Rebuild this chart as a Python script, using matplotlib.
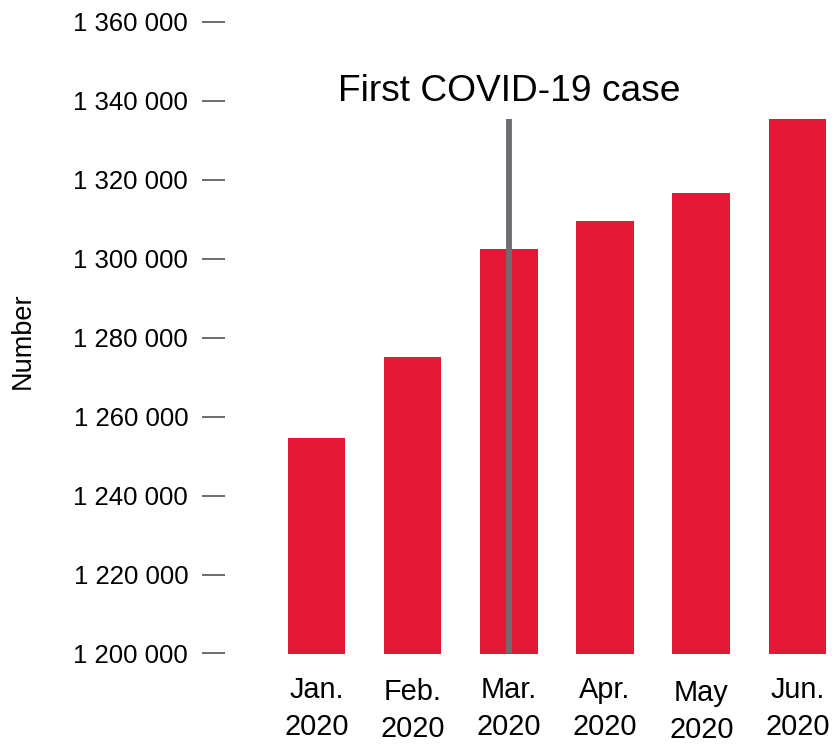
import numpy as np
import matplotlib
matplotlib.use("Agg")
import matplotlib.pyplot as plt
from matplotlib.transforms import ScaledTranslation

plt.rcParams['font.family'] = ['Liberation Sans', 'DejaVu Sans']

# data
months = ['Jan.\n2020', 'Feb.\n2020', 'Mar.\n2020', 'Apr.\n2020', 'May\n2020', 'Jun.\n2020']
values = [1254500, 1275000, 1302500, 1309600, 1316700, 1335500]
yticks = [1200000, 1220000, 1240000, 1260000, 1280000, 1300000, 1320000, 1340000, 1360000]
covid_month = 2  # March
covid_label = 'First COVID-19 case'

label_drop = [0, 1.5, 0, 0, 2.5, 0]  # small vertical shifts of x labels (pt)

fig = plt.figure(figsize=(8.36, 7.44), dpi=100)
ax = fig.add_axes([225 / 836, 1 - 653.5 / 744, 1 - 225 / 836, (653.5 - 22) / 744])

x = np.arange(len(months))
ax.bar(x, values, width=0.6, color='#e31937', zorder=2)
ax.vlines(covid_month, yticks[0], values[-1], color='#6d6e71', lw=4.2, zorder=3)
ax.text(covid_month, 1340000, covid_label, ha='center', va='baseline', fontsize=26.7)

ax.set_ylim(yticks[0], yticks[-1])
ax.set_xlim(-0.95, 5.4)
ax.set_yticks(yticks)
ax.set_yticklabels(['{:,}'.format(v).replace(',', ' ') for v in yticks])
ax.set_xticks(x)
ax.set_xticklabels(months, linespacing=1.4)

ax.tick_params(axis='y', direction='out', length=16.5, pad=10, width=1.1,
               color='#444444', labelsize=18.5)
ax.tick_params(axis='x', length=0, pad=16, labelsize=20.8)

for lab, dy in zip(ax.get_xticklabels(), label_drop):
    lab.set_transform(lab.get_transform() + ScaledTranslation(0, -dy / 72, fig.dpi_scale_trans))

for s in ax.spines.values():
    s.set_visible(False)

fig.text(23 / 836, 1 - 341 / 744, 'Number', rotation=90, ha='center', va='center', fontsize=19.5)

fig.savefig('out.png', dpi=100)
